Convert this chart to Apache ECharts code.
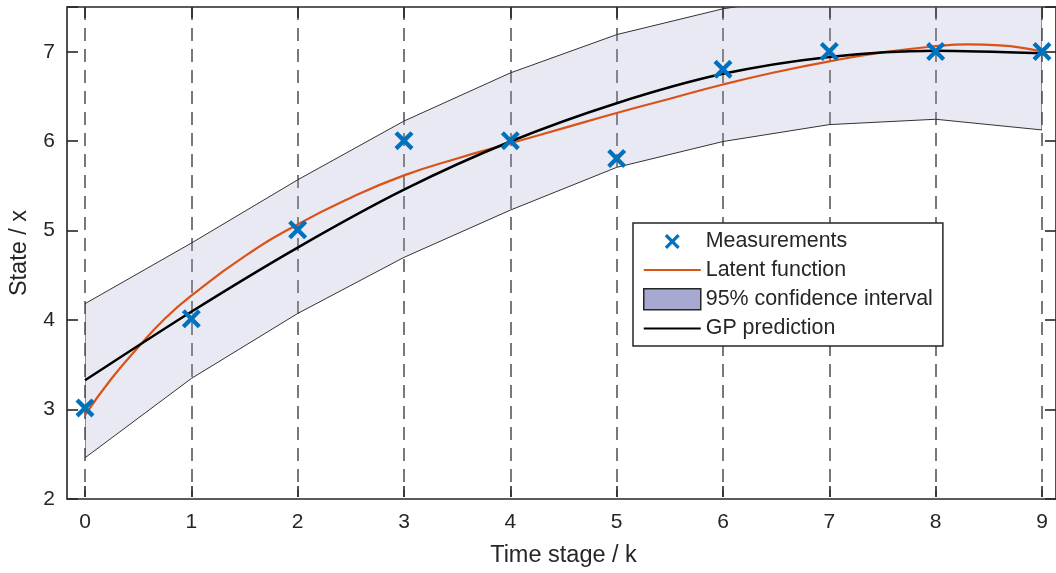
<!DOCTYPE html>
<html>
<head>
<meta charset="utf-8">
<script src="https://cdn.jsdelivr.net/npm/echarts@6/dist/echarts.min.js"></script>
<style>
  html, body { margin: 0; padding: 0; background: #ffffff; }
  #chart { width: 1056px; height: 573px; }
</style>
</head>
<body>
<div id="chart"></div>
<script>
// Time stages k and the measured states
const stages = [0, 1, 2, 3, 4, 5, 6, 7, 8, 9];
const measurements = [3.0, 4.0, 5.0, 6.0, 6.0, 5.8, 6.8, 7.0, 7.0, 7.0];

// GP posterior mean and 95% confidence bounds at each stage
const gpPrediction = [3.31, 4.08, 4.80, 5.45, 5.99, 6.42, 6.75, 6.94, 7.01, 6.98];
const ciLower = [2.44, 3.33, 4.06, 4.69, 5.22, 5.70, 5.99, 6.18, 6.24, 6.12];
const ciUpper = [4.17, 4.85, 5.56, 6.22, 6.76, 7.19, 7.48, 7.66, 7.78, 7.85];

// Latent (true) function, sampled more finely
const latentX = [0, 0.25, 0.5, 0.75, 1, 1.5, 2, 2.5, 3, 3.5, 4, 4.5, 5, 5.5, 6, 6.5, 7, 7.5, 8, 8.3, 8.6, 9];
const latentY = [2.92, 3.33, 3.68, 4.00, 4.26, 4.70, 5.06, 5.36, 5.61, 5.80, 5.97, 6.14, 6.31, 6.47, 6.63, 6.77, 6.89, 6.99, 7.06, 7.08, 7.07, 7.00];

// Tick labels
const xTickLabels = [0, 1, 2, 3, 4, 5, 6, 7, 8, 9];
const yTickLabels = [2, 3, 4, 5, 6, 7];

const FONT = "'Liberation Sans', Arial, Helvetica, sans-serif";
const INK = '#262626';
const BAND = '#a8a9d1';

const zip = (xs, ys) => xs.map((x, i) => [x, ys[i]]);

// Tiny specks at two corners so a legend icon path keeps a w-by-h bounding box
const specks = (w, h) =>
  ' M0,0 L0.01,0 L0,0.01 Z M' + w + ',' + h + ' L' + (w - 0.01) + ',' + h + ' L' + w + ',' + (h - 0.01) + ' Z';

// Filled "x" marker, centred in a w-by-h box
function crossPath(w, h, half, a, withSpecks) {
  const cx = w / 2, cy = h / 2;
  const p = [
    [cx - half, cy - half + a], [cx - half + a, cy - half], [cx, cy - a],
    [cx + half - a, cy - half], [cx + half, cy - half + a], [cx + a, cy],
    [cx + half, cy + half - a], [cx + half - a, cy + half], [cx, cy + a],
    [cx - half + a, cy + half], [cx - half, cy + half - a], [cx - a, cy]
  ];
  let d = 'M' + p.map(q => q[0].toFixed(2) + ',' + q[1].toFixed(2)).join(' L') + ' Z';
  if (withSpecks) d += specks(w, h);
  return 'path://' + d;
}

// Plain horizontal stroke for line entries in the legend
function lineIconPath(w, h, t) {
  const y0 = h / 2 - t / 2, y1 = h / 2 + t / 2;
  return 'path://M0,' + y0 + ' L' + w + ',' + y0 + ' L' + w + ',' + y1 + ' L0,' + y1 + ' Z' + specks(w, h);
}

const markerPath = crossPath(10, 10, 5, 1.6, false);
const legendMarkerPath = crossPath(57, 21, 7.5, 2.3, true);

const tickStyle = { color: INK, width: 1.6 };

const chart = echarts.init(document.getElementById('chart'), null, { renderer: 'canvas' });

chart.setOption({
  animation: false,
  backgroundColor: '#ffffff',
  textStyle: { fontFamily: FONT, color: INK },
  grid: [
    // data area, spanning stages 0..9
    { left: 85, top: 7, width: 957, height: 492, show: false },
    // outer axes box
    { left: 64, top: 7, width: 999, height: 492, show: true, borderColor: INK, borderWidth: 1.6, backgroundColor: 'transparent' }
  ],
  xAxis: [
    {
      gridIndex: 0, type: 'value', min: 0, max: 9, interval: 1, position: 'bottom',
      axisLine: { show: false },
      axisTick: { inside: true, length: 11, lineStyle: tickStyle },
      axisLabel: {
        fontSize: 21, color: INK, fontFamily: FONT, margin: 15,
        formatter: v => (xTickLabels.indexOf(v) >= 0 ? String(v) : '')
      },
      splitLine: { show: true, lineStyle: { color: '#4d4d4d', width: 1.5, type: [13, 8] } },
      name: 'Time stage / k', nameLocation: 'middle', nameGap: 47,
      nameTextStyle: { fontSize: 23.5, color: INK, fontFamily: FONT }
    },
    {
      gridIndex: 0, type: 'value', min: 0, max: 9, interval: 1, position: 'top',
      axisLine: { show: false },
      axisTick: { inside: true, length: 11, lineStyle: tickStyle },
      axisLabel: { show: false },
      splitLine: { show: false }
    },
    { gridIndex: 1, type: 'value', min: 0, max: 1, show: false }
  ],
  yAxis: [
    { gridIndex: 0, type: 'value', min: 2, max: 7.5, show: false },
    {
      gridIndex: 1, type: 'value', min: 2, max: 7.5, interval: 1, position: 'left',
      axisLine: { show: false },
      axisTick: { inside: true, length: 11, lineStyle: tickStyle },
      axisLabel: {
        fontSize: 21, color: INK, fontFamily: FONT, margin: 12,
        formatter: v => (yTickLabels.indexOf(v) >= 0 ? String(v) : '')
      },
      splitLine: { show: false },
      name: 'State / x', nameLocation: 'middle', nameGap: 35,
      nameTextStyle: { fontSize: 23.5, color: INK, fontFamily: FONT }
    },
    {
      gridIndex: 1, type: 'value', min: 2, max: 7.5, interval: 1, position: 'right',
      axisLine: { show: false },
      axisTick: { inside: true, length: 11, lineStyle: tickStyle },
      axisLabel: { show: false },
      splitLine: { show: false }
    }
  ],
  legend: {
    orient: 'vertical', left: 633, top: 223,
    padding: [8, 10, 7, 10],
    itemWidth: 57, itemHeight: 21, itemGap: 7.5,
    borderColor: INK, borderWidth: 1.5, backgroundColor: '#ffffff',
    selectedMode: false, z: 10,
    textStyle: { fontSize: 21.4, color: INK, fontFamily: FONT },
    data: [
      { name: 'Measurements', icon: legendMarkerPath, itemStyle: { color: '#0072BD' } },
      { name: 'Latent function', icon: lineIconPath(57, 21, 2.2), itemStyle: { color: '#D95319' } },
      { name: '95% confidence interval', icon: 'rect', itemStyle: { color: BAND, borderColor: INK, borderWidth: 1.5 } },
      { name: 'GP prediction', icon: lineIconPath(57, 21, 2.2), itemStyle: { color: '#000000' } }
    ]
  },
  series: [
    {
      // confidence band: upper bound forward, lower bound back, closed polygon
      name: '95% confidence interval', type: 'custom', xAxisIndex: 0, yAxisIndex: 0,
      silent: true, z: 2,
      itemStyle: { color: BAND },
      data: stages.map((s, i) => [s, ciLower[i], ciUpper[i]]),
      renderItem: function (params, api) {
        if (params.dataIndex !== 0) return { type: 'group', children: [] };
        const pts = [];
        for (let i = 0; i < stages.length; i++) pts.push(api.coord([stages[i], ciUpper[i]]));
        for (let i = stages.length - 1; i >= 0; i--) pts.push(api.coord([stages[i], ciLower[i]]));
        const cs = params.coordSys;
        return {
          type: 'polygon',
          shape: { points: pts },
          clipPath: { type: 'rect', shape: { x: cs.x, y: cs.y, width: cs.width, height: cs.height } },
          style: { fill: 'rgba(168,169,209,0.25)', stroke: '#333333', lineWidth: 1 }
        };
      }
    },
    {
      name: 'Latent function', type: 'line', xAxisIndex: 0, yAxisIndex: 0,
      symbol: 'none', smooth: true,
      data: zip(latentX, latentY),
      lineStyle: { color: '#D95319', width: 2.2 }, itemStyle: { color: '#D95319' }, z: 3
    },
    {
      name: 'GP prediction', type: 'line', xAxisIndex: 0, yAxisIndex: 0,
      symbol: 'none', smooth: 0.3,
      data: zip(stages, gpPrediction),
      lineStyle: { color: '#000000', width: 2.5 }, itemStyle: { color: '#000000' }, z: 4
    },
    {
      name: 'Measurements', type: 'scatter', xAxisIndex: 0, yAxisIndex: 0,
      symbol: markerPath, symbolSize: 19,
      data: zip(stages, measurements),
      itemStyle: { color: '#0072BD', opacity: 1 }, z: 5
    }
  ]
});
</script>
</body>
</html>
